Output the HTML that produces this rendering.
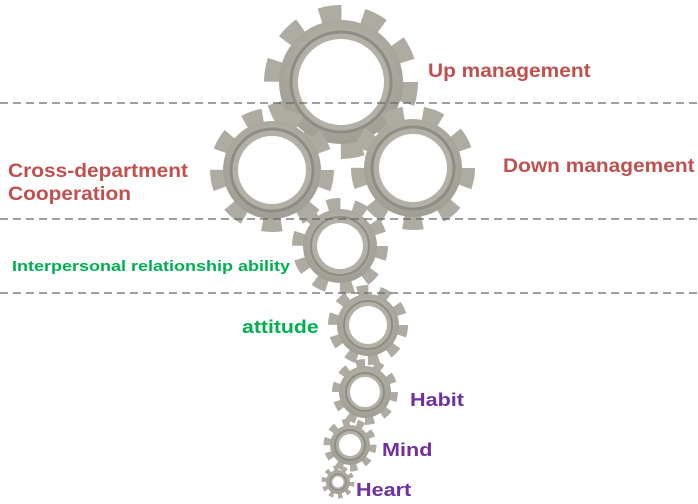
<!DOCTYPE html>
<html><head><style>
html,body{margin:0;padding:0;background:#fff;}
.t{position:absolute;font-family:"Liberation Sans",sans-serif;font-weight:bold;white-space:nowrap;transform-origin:0 0;}
.r{color:#c0504d;font-size:19px;transform:scaleX(1.1);}
.g{color:#00b050;}
.p{color:#7030a0;font-size:18px;transform:scaleX(1.2);}
</style></head><body>
<div style="position:relative;width:698px;height:504px;overflow:hidden;">
<svg width="698" height="504" style="position:absolute;left:0;top:0">
<defs>
<radialGradient id="gb" cx="50%" cy="40%" r="60%"><stop offset="0" stop-color="#c0bdb5"/><stop offset="1" stop-color="#a09d95"/></radialGradient>
</defs>
<g transform="translate(341,82)">
<circle r="69" fill="none" stroke="#aeaba3" stroke-width="16" stroke-dasharray="21.7 21.7"/>
<circle r="62" fill="url(#gb)"/><circle r="50" fill="#b3b0a8" stroke="#8f8c85" stroke-width="3"/><circle r="43" fill="#fff"/></g>
<g transform="translate(272,170)">
<circle r="55" fill="none" stroke="#aeaba3" stroke-width="14" stroke-dasharray="19.2 19.2"/>
<circle r="49" fill="url(#gb)"/><circle r="41" fill="#b3b0a8" stroke="#8f8c85" stroke-width="3"/><circle r="34" fill="#fff"/></g>
<g transform="translate(413,168)">
<circle r="55" fill="none" stroke="#aeaba3" stroke-width="14" stroke-dasharray="19.2 19.2"/>
<circle r="49" fill="url(#gb)"/><circle r="41" fill="#b3b0a8" stroke="#8f8c85" stroke-width="3"/><circle r="34" fill="#fff"/></g>
<g transform="translate(340,246)">
<circle r="42" fill="none" stroke="#aeaba3" stroke-width="12" stroke-dasharray="13.2 13.2"/>
<circle r="37" fill="url(#gb)"/><circle r="29" fill="#b3b0a8" stroke="#8f8c85" stroke-width="2"/><circle r="23" fill="#fff"/></g>
<g transform="translate(368,325)">
<circle r="35" fill="none" stroke="#aeaba3" stroke-width="10" stroke-dasharray="11 11"/>
<circle r="31" fill="url(#gb)"/><circle r="24" fill="#b3b0a8" stroke="#8f8c85" stroke-width="2"/><circle r="19" fill="#fff"/></g>
<g transform="translate(365,392)">
<circle r="29" fill="none" stroke="#aeaba3" stroke-width="8" stroke-dasharray="9.1 9.1"/>
<circle r="26" fill="url(#gb)"/><circle r="19" fill="#b3b0a8" stroke="#8f8c85" stroke-width="2"/><circle r="15" fill="#fff"/></g>
<g transform="translate(350,445)">
<circle r="23" fill="none" stroke="#aeaba3" stroke-width="7" stroke-dasharray="7.2 7.2"/>
<circle r="20" fill="url(#gb)"/><circle r="15" fill="#b3b0a8" stroke="#8f8c85" stroke-width="2"/><circle r="11" fill="#fff"/></g>
<g transform="translate(338,482)">
<circle r="14" fill="none" stroke="#aeaba3" stroke-width="5" stroke-dasharray="4.4 4.4"/>
<circle r="12" fill="url(#gb)"/><circle r="8" fill="#b3b0a8" stroke="#8f8c85" stroke-width="1.5"/><circle r="5.5" fill="#fff"/></g>
<g stroke="#666" stroke-width="1.2" stroke-dasharray="8 5">
<line x1="0" y1="103" x2="698" y2="103"/>
<line x1="0" y1="219" x2="698" y2="219"/>
<line x1="0" y1="293" x2="698" y2="293"/>
</g>
</svg>
<div class="t r" style="left:428px;top:61px;">Up management</div>
<div class="t r" style="left:8px;top:160px;line-height:23px;">Cross-department<br>Cooperation</div>
<div class="t r" style="left:503px;top:156px;">Down management</div>
<div class="t g" style="left:12px;top:258px;font-size:15px;transform:scaleX(1.2);">Interpersonal relationship ability</div>
<div class="t g" style="left:242px;top:317px;font-size:18px;transform:scaleX(1.18);">attitude</div>
<div class="t p" style="left:410px;top:390px;">Habit</div>
<div class="t p" style="left:382px;top:440px;">Mind</div>
<div class="t p" style="left:356px;top:480px;">Heart</div>
</div>
</body></html>
